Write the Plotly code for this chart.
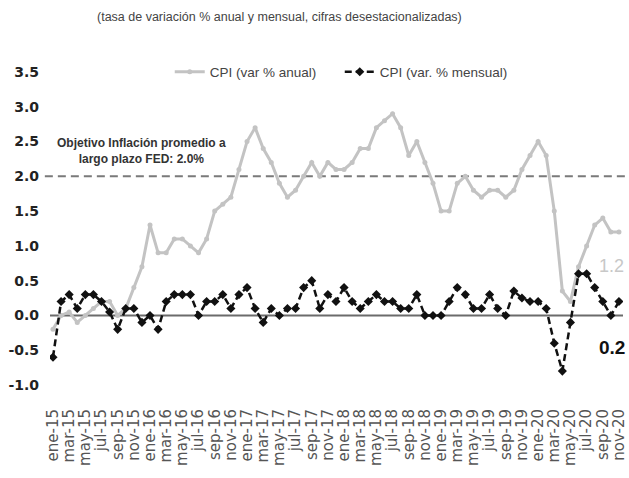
import plotly.graph_objects as go

meses = ["ene", "feb", "mar", "abr", "may", "jun", "jul", "ago", "sep", "oct", "nov", "dic"]
categorias = [f"{m}-{a}" for a in range(15, 21) for m in meses][:71]

cpi_anual = [
    -0.2, 0.0, 0.05, -0.1, 0.0, 0.1, 0.2, 0.2, 0.0, 0.1, 0.4, 0.7,
    1.3, 0.9, 0.9, 1.1, 1.1, 1.0, 0.9, 1.1, 1.5, 1.6, 1.7, 2.1,
    2.5, 2.7, 2.4, 2.2, 1.9, 1.7, 1.8, 2.0, 2.2, 2.0, 2.2, 2.1,
    2.1, 2.2, 2.4, 2.4, 2.7, 2.8, 2.9, 2.7, 2.3, 2.5, 2.2, 1.9,
    1.5, 1.5, 1.9, 2.0, 1.8, 1.7, 1.8, 1.8, 1.7, 1.8, 2.1, 2.3,
    2.5, 2.3, 1.5, 0.35, 0.2, 0.7, 1.0, 1.3, 1.4, 1.2, 1.2,
]
cpi_mensual = [
    -0.6, 0.2, 0.3, 0.1, 0.3, 0.3, 0.2, 0.05, -0.2, 0.1, 0.1, -0.1,
    0.0, -0.2, 0.2, 0.3, 0.3, 0.3, 0.0, 0.2, 0.2, 0.3, 0.1, 0.3,
    0.4, 0.1, -0.1, 0.1, 0.0, 0.1, 0.1, 0.4, 0.5, 0.1, 0.3, 0.2,
    0.4, 0.2, 0.1, 0.2, 0.3, 0.2, 0.2, 0.1, 0.1, 0.3, 0.0, 0.0,
    0.0, 0.2, 0.4, 0.3, 0.1, 0.1, 0.3, 0.1, 0.0, 0.35, 0.25, 0.2,
    0.2, 0.1, -0.4, -0.8, -0.1, 0.6, 0.6, 0.4, 0.2, 0.0, 0.2,
]
ticks_x = categorias[::2]
ticks_y = [-1.0, -0.5, 0.0, 0.5, 1.0, 1.5, 2.0, 2.5, 3.0, 3.5]
objetivo_fed = 2.0

GRIS = "#c3c3c3"
NARROW = "Liberation Sans Narrow, Arial Narrow, sans-serif"

fig = go.Figure()
fig.add_trace(go.Scatter(
    x=categorias, y=cpi_anual, name="CPI (var % anual)", mode="lines+markers",
    line=dict(color=GRIS, width=3), marker=dict(color=GRIS, size=5, symbol="circle"),
))
fig.add_trace(go.Scatter(
    x=categorias, y=cpi_mensual, name="CPI (var. % mensual)", mode="lines+markers",
    line=dict(color="#111111", width=2.5, dash="7px,4px"),
    marker=dict(color="#111111", size=7, symbol="diamond"),
))

fig.add_shape(type="line", xref="paper", yref="y", x0=-0.009, x1=1.02,
              y0=objetivo_fed, y1=objetivo_fed,
              line=dict(color="#7a7a7a", width=2, dash="8px,5px"), layer="below")
fig.add_shape(type="line", xref="paper", yref="y", x0=0, x1=1, y0=0, y1=0,
              line=dict(color="#6b6b6b", width=2), layer="below")

fig.add_annotation(xref="paper", yref="paper", x=0.401, y=1, yshift=55, yanchor="middle",
                   xanchor="center",
                   text="(tasa de variación % anual y mensual, cifras desestacionalizadas)",
                   showarrow=False, font=dict(family=NARROW, size=12.5, color="#444444"))
fig.add_annotation(xref="paper", yref="y", x=0.159, y=2.37, xanchor="center",
                   text="<b>Objetivo Inflación promedio a<br>largo plazo FED: 2.0%</b>",
                   showarrow=False, font=dict(family=NARROW, size=12, color="#333333"),
                   align="center")
fig.add_annotation(x=categorias[-1], y=cpi_anual[-1], yshift=-34, xshift=-7,
                   text="%.1f" % cpi_anual[-1], showarrow=False,
                   font=dict(family=NARROW, size=18, color="#c8c8c8"))
fig.add_annotation(x=categorias[-1], y=cpi_mensual[-1], yshift=-46, xshift=-7,
                   text="<b>%.1f</b>" % cpi_mensual[-1], showarrow=False,
                   font=dict(family=NARROW, size=19, color="#111111"))

fig.update_layout(
    width=629, height=478,
    margin=dict(l=50, r=6, t=72, b=93, autoexpand=False),
    plot_bgcolor="white", paper_bgcolor="white",
    showlegend=True,
    legend=dict(orientation="h", x=0.209, xanchor="left", y=1, yanchor="middle",
                font=dict(family=NARROW, size=13.5, color="#444444"),
                entrywidth=125, bgcolor="rgba(0,0,0,0)"),
    xaxis=dict(type="category", range=[-0.37, 70.5], tickmode="array", tickvals=ticks_x,
               ticktext=ticks_x, tickangle=-90, showgrid=False, showline=False, zeroline=False,
               ticks="", ticklabelstandoff=20, automargin=False,
               tickfont=dict(family="DejaVu Sans", size=15, color="#555555")),
    yaxis=dict(range=[-1.0, 3.5], tickmode="array", tickvals=ticks_y,
               ticktext=["<b>%.1f</b>" % v for v in ticks_y], showgrid=False,
               zeroline=False, showline=False, ticks="", ticklabelstandoff=10,
               automargin=False,
               tickfont=dict(family="DejaVu Sans", size=14, color="#222222")),
)

fig.write_html("out.html", config={"displayModeBar": False},
               post_script="document.body.style.margin='0';document.body.style.overflow='hidden';")
